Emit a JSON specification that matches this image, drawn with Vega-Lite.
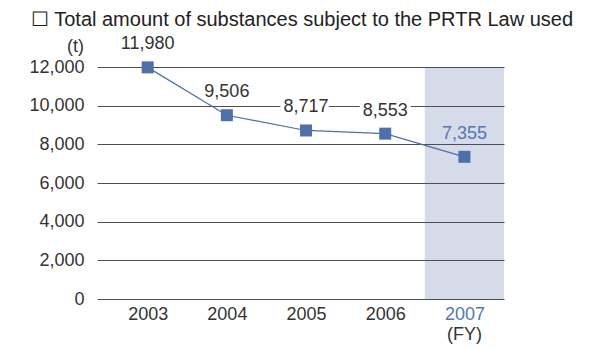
{
  "$schema": "https://vega.github.io/schema/vega-lite/v6.json",
  "autosize": {"type": "none"},
  "width": 407,
  "height": 232,
  "padding": {"left": 97, "top": 67, "right": 107, "bottom": 50},
  "background": "white",
  "config": {
    "font": "Liberation Sans",
    "view": {"stroke": null},
    "axisY": {
      "format": ",d",
      "grid": true,
      "gridColor": "#4d4d4d",
      "gridOpacity": 1,
      "gridWidth": 1,
      "domain": false,
      "ticks": false,
      "labelOverlap": false,
      "labelFontSize": 18,
      "labelPadding": 13,
      "labelColor": "#333333",
      "titleAngle": 0,
      "titleFontSize": 18,
      "titleFontWeight": "normal",
      "titleColor": "#333333",
      "titleX": -22,
      "titleY": -21,
      "titleAlign": "center",
      "titleBaseline": "middle"
    }
  },
  "title": {
    "text": "☐ Total amount of substances subject to the PRTR Law used",
    "anchor": "start",
    "frame": "group",
    "dx": -66,
    "fontSize": 20,
    "fontWeight": "normal",
    "color": "#222222",
    "offset": 5
  },
  "datasets": {
    "series": [
      {"year": 2003, "value": 11980},
      {"year": 2004, "value": 9506},
      {"year": 2005, "value": 8717},
      {"year": 2006, "value": 8553},
      {"year": 2007, "value": 7355}
    ],
    "highlight": [
      {"start": 2006.5, "end": 2007.5}
    ]
  },
  "layer": [
    {
      "data": {"name": "highlight"},
      "mark": {"type": "rect", "color": "#3b5998", "opacity": 0.214},
      "encoding": {
        "x": {
          "field": "start", "type": "quantitative",
          "scale": {"domain": [2002.36, 2007.5], "nice": false, "zero": false},
          "axis": {
            "values": [2003, 2004, 2005, 2006, 2007],
            "format": "d",
            "grid": false,
            "domain": false,
            "ticks": false,
            "labelOverlap": false,
            "labelFontSize": 18,
            "labelPadding": 6,
            "labelColor": {"condition": {"test": "datum.value == 2007", "value": "#5577b3"}, "value": "#333333"},
            "title": "(FY)",
            "titleFontSize": 18,
            "titleFontWeight": "normal",
            "titleColor": "#333333",
            "titleX": 367,
            "titleY": 35,
            "titleAlign": "center",
            "titleBaseline": "middle"
          }
        },
        "x2": {"field": "end"},
        "y": {
          "datum": 0, "type": "quantitative",
          "scale": {"domain": [0, 12000], "nice": false},
          "axis": {"title": "(t)"}
        },
        "y2": {"datum": 12000}
      }
    },
    {
      "data": {"name": "series"},
      "mark": {"type": "line", "color": "#4e6fa8", "strokeWidth": 1.2},
      "encoding": {
        "x": {"field": "year", "type": "quantitative"},
        "y": {"field": "value", "type": "quantitative"}
      }
    },
    {
      "data": {"name": "series"},
      "mark": {"type": "square", "color": "#4e6fa8", "size": 144, "opacity": 1, "filled": true},
      "encoding": {
        "x": {"field": "year", "type": "quantitative"},
        "y": {"field": "value", "type": "quantitative"}
      }
    },
    {
      "data": {"name": "series"},
      "transform": [{"filter": "datum.year < 2007"}],
      "mark": {"type": "text", "fontSize": 18, "dy": -23, "stroke": "white", "strokeWidth": 8, "color": "white"},
      "encoding": {
        "x": {"field": "year", "type": "quantitative"},
        "y": {"field": "value", "type": "quantitative"},
        "text": {"field": "value", "type": "quantitative", "format": ",d"}
      }
    },
    {
      "data": {"name": "series"},
      "mark": {"type": "text", "fontSize": 18, "dy": -23},
      "encoding": {
        "x": {"field": "year", "type": "quantitative"},
        "y": {"field": "value", "type": "quantitative"},
        "text": {"field": "value", "type": "quantitative", "format": ",d"},
        "color": {"condition": {"test": "datum.year == 2007", "value": "#5577b3"}, "value": "#333333"}
      }
    }
  ]
}
